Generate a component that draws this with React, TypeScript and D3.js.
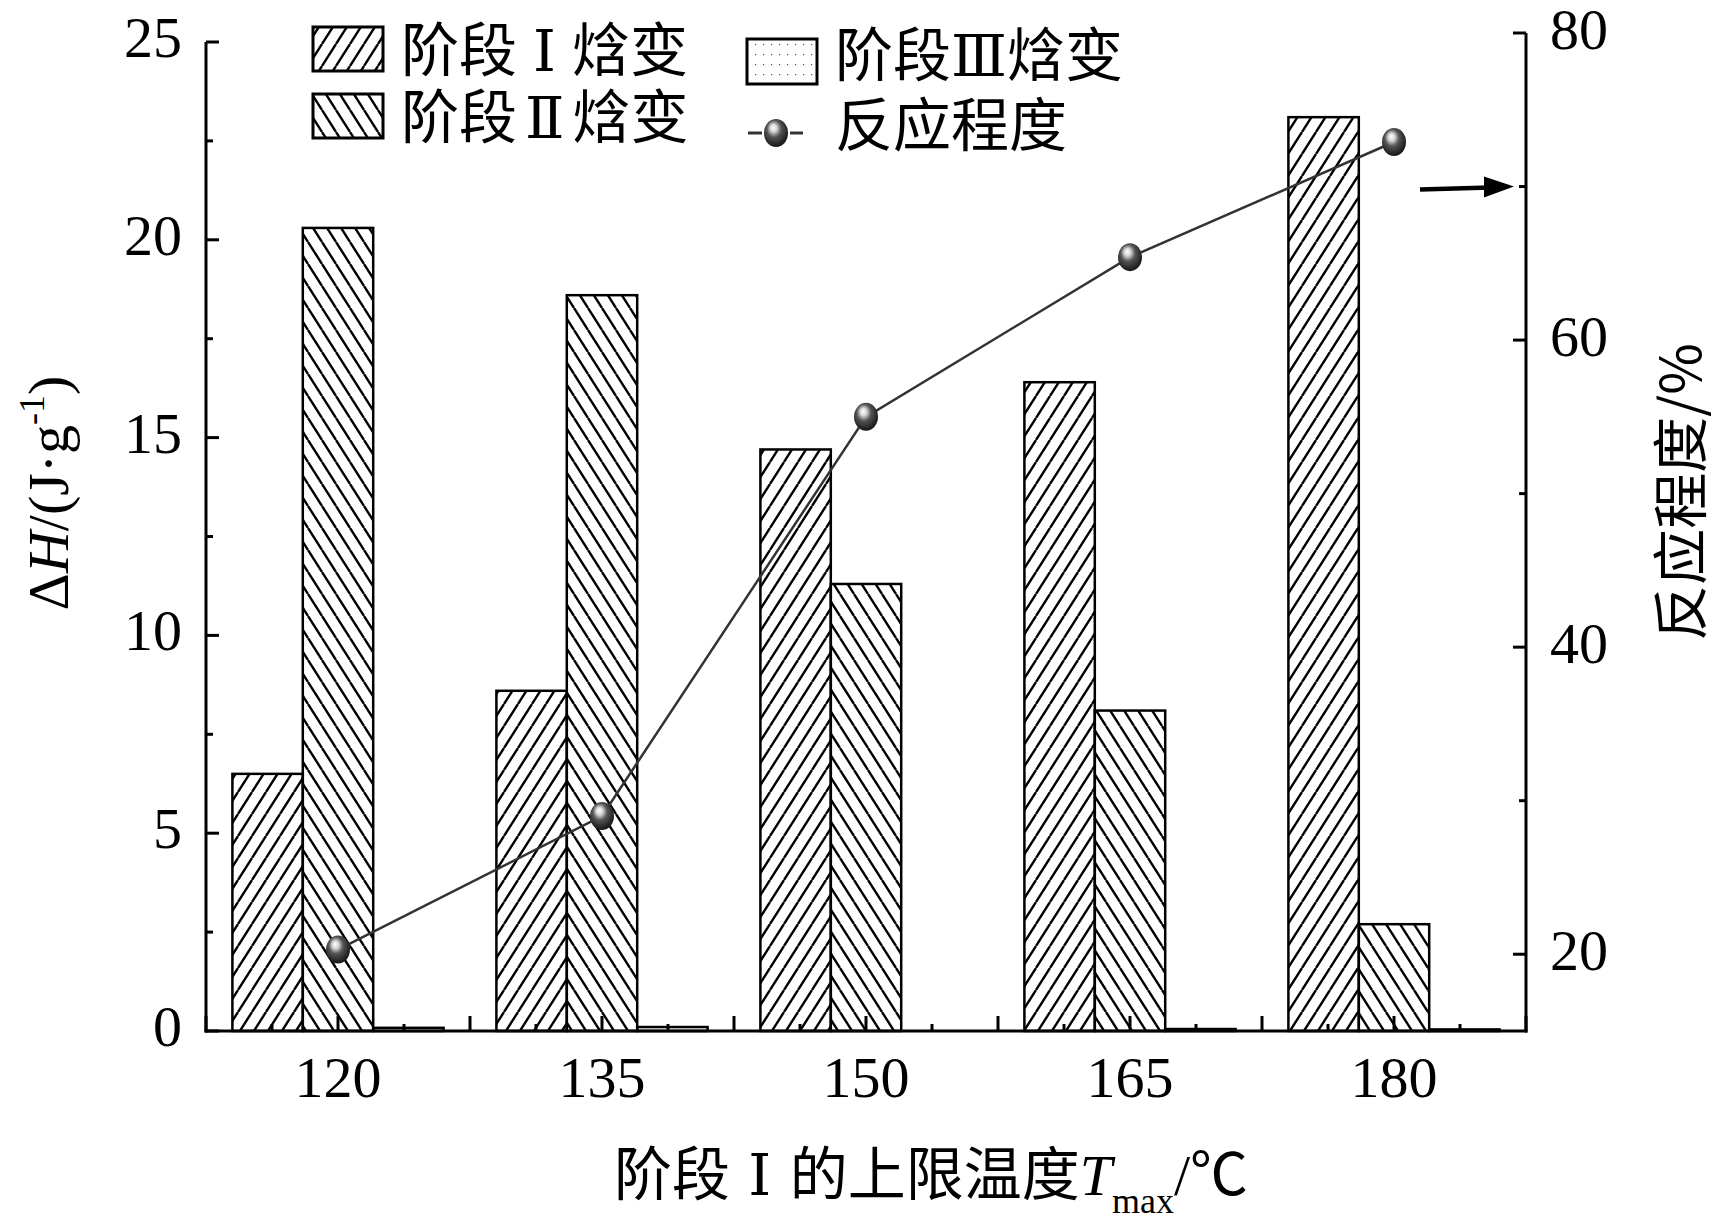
import * as d3 from "d3";

// upper temperature limit of stage I (°C)
const temps = [120, 135, 150, 165, 180];
// enthalpy per stage, J/g
const stage1 = [6.5, 8.6, 14.7, 16.4, 23.1];
const stage2 = [20.3, 18.6, 11.3, 8.1, 2.7];
const stage3 = [0.08, 0.1, 0, 0.05, 0.04];
// reaction degree, %
const degree = [20.3, 29.0, 55.0, 65.4, 72.9];

const leftTicks = [0, 5, 10, 15, 20, 25];
const rightTicks = [20, 40, 60, 80];

const W = 1717;
const H = 1227;
const serif = "'Liberation Serif', 'Noto Sans CJK SC', serif";
const cjk = "'Noto Sans CJK SC', 'Liberation Serif', sans-serif";
const roman = "'DejaVu Serif', 'Liberation Serif', 'Noto Sans CJK SC', serif";

export default function App() {
  const x = d3.scaleLinear([112.5, 187.5], [206, 1526]);
  const yL = d3.scaleLinear([0, 25], [1031, 42]);
  const yR = d3.scaleLinear([15, 80], [1031, 33]);

  const xMajor = d3.range(112.5, 187.6, 7.5);
  const xMinor = d3.range(116.25, 187.5, 7.5);
  const yMinor = d3.range(2.5, 25, 5);
  const rMinor = [30, 50, 70];

  const line = d3
    .line<number>()
    .x((_, i) => x(temps[i]))
    .y((d) => yR(d));

  const bars = [
    { data: stage1, off: -6, fill: "url(#hatchF)" },
    { data: stage2, off: -2, fill: "url(#hatchB)" },
    { data: stage3, off: 2, fill: "url(#dots)" },
  ];

  const arrowY = yR(70);

  return (
    <svg
      width={W}
      height={H}
      style={{ position: "absolute", left: 0, top: 0, background: "#fff" }}
    >
      <defs>
        <pattern id="hatchF" patternUnits="userSpaceOnUse" width={14} height={22}>
          <path d="M-14,22 L0,0 M0,22 L14,0 M14,22 L28,0" stroke="#000" strokeWidth={2.4} />
        </pattern>
        <pattern id="hatchB" patternUnits="userSpaceOnUse" width={14} height={22}>
          <path d="M-14,0 L0,22 M0,0 L14,22 M14,0 L28,22" stroke="#000" strokeWidth={2.4} />
        </pattern>
        <pattern id="dots" patternUnits="userSpaceOnUse" width={8} height={10}>
          <rect x={3} y={4} width={1.2} height={1.2} fill="#555" />
        </pattern>
        <radialGradient id="ball" cx="0.45" cy="0.4" r="0.6" fx="0.38" fy="0.3">
          <stop offset="0" stopColor="#ffffff" />
          <stop offset="0.22" stopColor="#d8d8d8" />
          <stop offset="0.5" stopColor="#555" />
          <stop offset="1" stopColor="#151515" />
        </radialGradient>
      </defs>

      {/* bars */}
      {bars.map((b, k) =>
        b.data.map((v, i) =>
          v > 0 ? (
            <rect
              key={`b${k}-${i}`}
              x={x(temps[i] + b.off)}
              y={yL(v)}
              width={x(temps[i] + b.off + 4) - x(temps[i] + b.off)}
              height={yL(0) - yL(v)}
              fill={b.fill}
              stroke="#000"
              strokeWidth={2.5}
            />
          ) : null
        )
      )}

      {/* reaction degree line */}
      <path d={line(degree) ?? ""} fill="none" stroke="#333" strokeWidth={2.5} />
      {degree.map((d, i) => (
        <ellipse key={`m${i}`} cx={x(temps[i])} cy={yR(d)} rx={12} ry={14} fill="url(#ball)" />
      ))}

      {/* axes */}
      <g stroke="#000" strokeWidth={3} fill="none">
        <line x1={206} x2={206} y1={yL(25)} y2={yL(0) + 1.5} />
        <line x1={1526} x2={1526} y1={yR(80)} y2={yL(0) + 1.5} />
        <line x1={204.5} x2={1527.5} y1={yL(0)} y2={yL(0)} />
        {leftTicks.map((t) => (
          <line key={`lt${t}`} x1={206} x2={219} y1={yL(t)} y2={yL(t)} />
        ))}
        {yMinor.map((t) => (
          <line key={`lm${t}`} x1={206} x2={213} y1={yL(t)} y2={yL(t)} />
        ))}
        {rightTicks.map((t) => (
          <line key={`rt${t}`} x1={1526} x2={1513} y1={yR(t)} y2={yR(t)} />
        ))}
        {rMinor.map((t) => (
          <line key={`rm${t}`} x1={1526} x2={1519} y1={yR(t)} y2={yR(t)} />
        ))}
        {xMajor.map((t) => (
          <line key={`xt${t}`} x1={x(t)} x2={x(t)} y1={yL(0)} y2={yL(0) - 15} />
        ))}
        {xMinor.map((t) => (
          <line key={`xm${t}`} x1={x(t)} x2={x(t)} y1={yL(0)} y2={yL(0) - 7} />
        ))}
      </g>

      {/* tick labels */}
      <g fontFamily={serif} fontSize={58} fill="#000">
        {leftTicks.map((t) => (
          <text key={`ll${t}`} x={182} y={yL(t) + 15} textAnchor="end">
            {t}
          </text>
        ))}
        {rightTicks.map((t) => (
          <text key={`rl${t}`} x={1550} y={yR(t) + 16}>
            {t}
          </text>
        ))}
        {temps.map((t) => (
          <text key={`xl${t}`} x={x(t)} y={1097} textAnchor="middle">
            {t}
          </text>
        ))}
      </g>

      {/* axis titles */}
      <text
        transform="translate(68,493) rotate(-90)"
        textAnchor="middle"
        fontFamily={serif}
        fontSize={58}
      >
        Δ<tspan fontStyle="italic">H</tspan>/(J·g
        <tspan fontSize={36} dy={-24}>-1</tspan>
        <tspan dy={24}>)</tspan>
      </text>
      <text
        transform="translate(1701,492) rotate(-90)"
        textAnchor="middle"
        fontFamily={cjk}
        fontSize={56}
      >
        反应程度/%
      </text>
      <text x={931} y={1195} textAnchor="middle" fontFamily={serif} fontSize={58}>
        阶段<tspan fontFamily={roman}> Ⅰ </tspan>的上限温度<tspan fontStyle="italic">T</tspan>
        <tspan fontSize={36} dy={18}>max</tspan>
        <tspan dy={-18}>/℃</tspan>
      </text>

      {/* arrow pointing to right axis */}
      <g>
        <line x1={1420} x2={1490} y1={arrowY + 3} y2={arrowY + 1} stroke="#000" strokeWidth={4.5} />
        <path
          d={`M1514,${arrowY} L1484,${arrowY - 10} L1484,${arrowY + 11} Z`}
          fill="#000"
        />
      </g>

      {/* legend */}
      <g fontFamily={cjk} fontSize={58} fill="#000">
        <rect x={313} y={27} width={70} height={44} fill="url(#hatchF)" stroke="#000" strokeWidth={3} />
        <text x={401} y={71}>
          阶段<tspan fontFamily={roman} dx={16}>Ⅰ</tspan>
          <tspan dx={16}>焓变</tspan>
        </text>
        <rect x={313} y={94} width={70} height={44} fill="url(#hatchB)" stroke="#000" strokeWidth={3} />
        <text x={401} y={138}>
          阶段<tspan fontFamily={roman} dx={8}>Ⅱ</tspan>
          <tspan dx={8}>焓变</tspan>
        </text>
        <rect x={747} y={39} width={70} height={45} fill="url(#dots)" stroke="#000" strokeWidth={3} />
        <text x={835} y={76}>
          阶段<tspan fontFamily={roman}>Ⅲ</tspan>焓变
        </text>
        <line x1={748} x2={762} y1={133} y2={133} stroke="#333" strokeWidth={3} />
        <line x1={790} x2={803} y1={133} y2={133} stroke="#333" strokeWidth={3} />
        <ellipse cx={776} cy={133} rx={12} ry={14} fill="url(#ball)" />
        <text x={835} y={146}>反应程度</text>
      </g>
    </svg>
  );
}
